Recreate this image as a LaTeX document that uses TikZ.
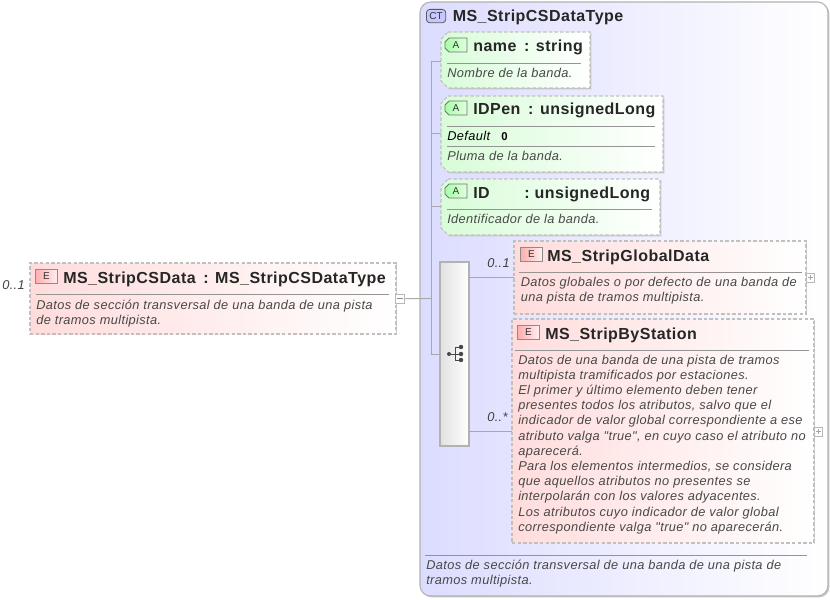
\documentclass[tikz,border=0pt]{standalone}
\usepackage{fontspec}
\setmainfont{Liberation Sans}
\newfontfamily\ttlfont[LetterSpace=3]{Liberation Sans}
\newfontfamily\dscfont[LetterSpace=3]{Liberation Sans}
\usetikzlibrary{calc,shadows}
\definecolor{bordc}{HTML}{C0C0C0}
\definecolor{linec}{HTML}{A8A8A8}
\definecolor{descc}{HTML}{484848}
\definecolor{redl}{HTML}{FFDCDC}
\definecolor{redm}{HTML}{FFEAEA}
\definecolor{greenl}{HTML}{D8FCD8}
\definecolor{greenm}{HTML}{ECFEEC}
\definecolor{bluel}{HTML}{DCDCFF}
\definecolor{bluem}{HTML}{ECECFF}
\newcommand{\cutbox}[3]{\path[#3] ($(#1.north west)+(#2,0)$) -- (#1.north east) -- (#1.south east) -- ($(#1.south west)+(#2,0)$) -- ($(#1.south west)+(0,-#2)$) -- ($(#1.north west)+(0,#2)$) -- cycle;}
\tikzset{
  wh/.style 2 args={minimum width=#1*0.75pt,minimum height=#2*0.75pt,inner sep=0pt,outer sep=0pt,anchor=north west},
  shad/.style={general shadow={shadow xshift=1.1pt,shadow yshift=-1.1pt,fill=black!22}},
  dashb/.style={draw=bordc,line width=0.8pt,dash pattern=on 2.6pt off 1.6pt},
  elembox/.style={rectangle,dashb,shad,left color=redl,middle color=redm,right color=white},
  attrbox/.style={dashb,shad,left color=greenl,middle color=greenm,right color=white},
  ctbox/.style={rectangle,rounded corners=8pt,draw=black!30,line width=0.8pt,shad,left color=bluel,middle color=bluem,right color=white},
  seqbox/.style={rectangle,draw=black!30,line width=0.8pt,shad,left color=black!12,right color=white},
  ttl/.style={anchor=base west,inner sep=0pt,font=\fontsize{12}{13}\bfseries\ttlfont,text=black!85},
  dsc/.style={anchor=north west,inner sep=0pt,align=left,text=descc,font=\fontsize{9.6}{11.4}\itshape\dscfont},
  card/.style={anchor=base west,inner sep=0pt,text=black!75,font=\fontsize{9.6}{11}\itshape\dscfont},
  sepl/.style={draw=black!42,line width=0.6pt},
  conn/.style={draw=linec,line width=0.7pt},
  eicon/.style={rectangle,draw=black!45,line width=0.6pt,left color=red!32,right color=red!6,minimum width=16.5pt,minimum height=10.5pt,inner sep=0pt,anchor=north west,
     font=\fontsize{7.5}{8}\selectfont,text=black!80},
  aslot/.style={minimum width=16.5pt,minimum height=10.5pt,inner sep=0pt,outer sep=0pt,anchor=north west},
  aicon/.style={draw=black!55,line width=0.6pt,left color=green!35!white,right color=green!12!white},
  atext/.style={inner sep=0pt,font=\fontsize{7.5}{8}\selectfont,text=black!80},
  cticon/.style={rectangle,rounded corners=2.5pt,draw=black!65,line width=0.6pt,fill=blue!22,minimum width=14.5pt,minimum height=10pt,inner sep=0pt,anchor=north west,
     font=\fontsize{7.5}{8}\selectfont,text=black!80},
  expbox/.style={rectangle,draw=black!28,line width=0.5pt,fill=white,minimum size=6.6pt,inner sep=0pt,anchor=north west},
  dotn/.style={circle,fill=black!72,minimum size=3.3pt,inner sep=0pt},
}
\begin{document}
\begin{tikzpicture}[x=0.75pt,y=-0.75pt]
\useasboundingbox (0,0) rectangle (830,599);
% complex type
\node[ctbox,wh={408}{594}] (ct) at (420,2) {};
\node[cticon] (cticn) at (426,9) {CT};
\node[ttl] (cttitle) at (452.5,22) {MS\_StripCSDataType};
% main element
\node[elembox,wh={366}{71}] (main) at (30,263) {};
\node[eicon] (mainicn) at (35,269) {E};
\node[ttl] (maintitle) at (63,283) {MS\_StripCSData\, : MS\_StripCSDataType};
\draw[sepl] (36,294) -- (389,294);
\node[dsc] (maindsc) at (36,299.5) {Datos de sección transversal de una banda de una pista\\de tramos multipista.};
\node[card] (maincard) at (2,289) {0..1};
\node[expbox] (minus) at (395,294) {};
\draw[draw=black!45,line width=0.5pt] (397,298.5) -- (402.5,298.5);
% connectors
\coordinate (jm) at (431,298.5);
\coordinate (jt) at (431,61);
\coordinate (ja) at (431,133);
\coordinate (jb) at (431,206);
\coordinate (js) at (431,354);
\coordinate (ju) at (469,277);
\coordinate (jv) at (469,431);
\draw[conn] (minus.east) -- (jm);
\draw[conn] (jt) -- (js);
% attributes
\node[wh={149}{56}] (name) at (441,32) {};
\node[wh={222}{76}] (idpen) at (441,96) {};
\node[wh={219}{56}] (idn) at (441,179) {};
\cutbox{name}{7}{attrbox}
\cutbox{idpen}{7}{attrbox}
\cutbox{idn}{7}{attrbox}
\draw[conn] (jt) -- (jt -| name.west);
\draw[conn] (ja) -- (ja -| idpen.west);
\draw[conn] (jb) -- (jb -| idn.west);
\node[aslot] (aic1) at (445,38) {};
\cutbox{aic1}{4}{aicon}
\node[atext] (al1) at (aic1) {A};
\node[ttl] (t1) at (473,52) {name\, : string};
\draw[sepl] (447,63) -- (581,63);
\node[dsc] (d1) at (447,67.5) {Nombre de la banda.};
\node[aslot] (aic2) at (445,101) {};
\cutbox{aic2}{4}{aicon}
\node[atext] (al2) at (aic2) {A};
\node[ttl] (t2) at (473,115) {IDPen\, : unsignedLong};
\draw[sepl] (447,126) -- (655,126);
\node[card,text=black] (dflt) at (447,141) {Default};
\node[anchor=base west,inner sep=0pt,font=\fontsize{8.5}{10}\bfseries,text=black] (dfv) at (501,140) {0};
\draw[sepl] (447,146) -- (655,146);
\node[dsc] (d2) at (447,150.5) {Pluma de la banda.};
\node[aslot] (aic3) at (445,184) {};
\cutbox{aic3}{4}{aicon}
\node[atext] (al3) at (aic3) {A};
\node[ttl] (t3) at (473,198) {ID\hspace{26pt}: unsignedLong};
\draw[sepl] (447,209) -- (652,209);
\node[dsc] (d3) at (447,213.5) {Identificador de la banda.};
% sequence
\node[seqbox,wh={29}{184}] (sq) at (440,262) {};
\draw[conn] (js) -- (js -| sq.west);
\node[dotn,minimum size=3pt] (sa) at (449,354) {};
\node[dotn] (sb) at (461,347) {};
\node[dotn] (sc) at (461,354) {};
\node[dotn] (sd) at (461,360) {};
\draw[draw=black!72,line width=0.6pt] (sa) -- (sc);
\draw[draw=black!72,line width=0.6pt] (sb) -- (455,347) -- (455,360) -- (sd);
% child elements
\node[elembox,wh={292}{73}] (glob) at (514,241) {};
\node[elembox,wh={302}{224}] (stat) at (512,319) {};
\draw[conn] (ju) -- (ju -| glob.west);
\draw[conn] (jv) -- (jv -| stat.west);
\node[card] (c1) at (487,267) {0..1};
\node[card] (c2) at (487,421) {0..*};
\node[eicon] (eic1) at (520,247) {E};
\node[ttl] (t4) at (547,261) {MS\_StripGlobalData};
\draw[sepl] (519,272) -- (802,272);
\node[dsc] (d4) at (520.5,276.5) {Datos globales o por defecto de una banda de\\una pista de tramos multipista.};
\node[expbox] (plus1) at (805.5,273) {};
\draw[draw=black!35,line width=0.5pt] (807.5,277.5) -- (813,277.5) (810.2,275) -- (810.2,280);
\node[eicon] (eic2) at (517,325) {E};
\node[ttl] (t5) at (545,339) {MS\_StripByStation};
\draw[sepl] (515,350) -- (809,350);
\node[dsc] (d5) at (518,354.5) {Datos de una banda de una pista de tramos\\multipista tramificados por estaciones.\\El primer y último elemento deben tener\\presentes todos los atributos, salvo que el\\indicador de valor global correspondiente a ese\\atributo valga "true", en cuyo caso el atributo no\\aparecerá.\\Para los elementos intermedios, se considera\\que aquellos atributos no presentes se\\interpolarán con los valores adyacentes.\\Los atributos cuyo indicador de valor global\\correspondiente valga "true" no aparecerán.};
\node[expbox] (plus2) at (813.5,427) {};
\draw[draw=black!35,line width=0.5pt] (815.5,431.5) -- (821,431.5) (818.2,429) -- (818.2,434);
% type description
\draw[sepl] (425,555) -- (807,555);
\node[dsc] (d6) at (426,559.5) {Datos de sección transversal de una banda de una pista de\\tramos multipista.};
\end{tikzpicture}
\end{document}
